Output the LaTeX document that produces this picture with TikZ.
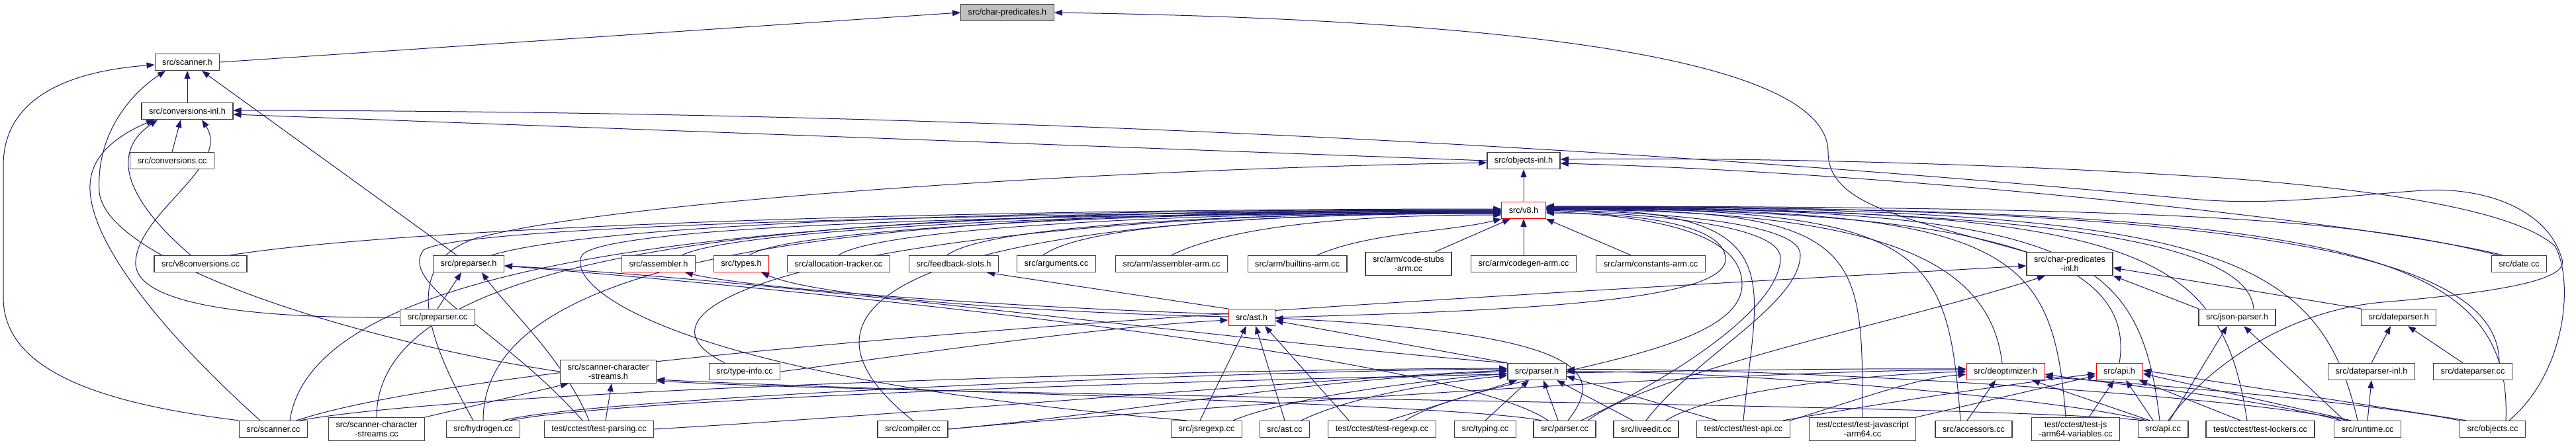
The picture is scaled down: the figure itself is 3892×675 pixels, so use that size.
\documentclass[tikz,border=0pt]{standalone}
\usepackage{fontspec}
\setmainfont{Liberation Sans}
\usepackage{xcolor}
\usepackage{tikz}
\usetikzlibrary{arrows.meta,backgrounds}
\definecolor{midnight}{HTML}{191970}
\tikzset{
  incfile/.style={draw=black!75, line width=1.3pt, fill=white, align=center,
                  font=\fontsize{12.7}{13.5}\selectfont, inner xsep=11pt, inner ysep=6pt,
                  minimum height=25pt},
  incred/.style={incfile, draw=red, line width=1pt},
  incroot/.style={incfile, fill=black!25},
  dep/.style={draw=midnight, line width=1pt, -{Triangle[length=12pt,width=9pt]}},
}

\begin{document}
\begin{tikzpicture}[x=1pt, y=-1pt]
    \useasboundingbox (0,0) rectangle (3892,675);
    % top of the graph
    \node[incroot] (cp)  at (1522,19)  {src/char-predicates.h};
    \node[incfile] (sch) at (283,94)   {src/scanner.h};
    \node[incfile] (cvi) at (283,168)  {src/conversions-inl.h};
    \node[incfile] (cvc) at (260,243)  {src/conversions.cc};
    \node[incfile] (obi) at (2302,243) {src/objects-inl.h};
    \node[incred]  (v8h) at (2302,318) {src/v8.h};
    % row 5
    \node[incfile] (v8c)  at (303,399)  {src/v8conversions.cc};
    \node[incfile] (pph)  at (708,399)  {src/preparser.h};
    \node[incred]  (asmh) at (995,399)  {src/assembler.h};
    \node[incred]  (typh) at (1120,399) {src/types.h};
    \node[incfile] (alt)  at (1267,399) {src/allocation-tracker.cc};
    \node[incfile] (fbs)  at (1441,399) {src/feedback-slots.h};
    \node[incfile] (arg)  at (1596,399) {src/arguments.cc};
    \node[incfile] (aasm) at (1770,399) {src/arm/assembler-arm.cc};
    \node[incfile] (abui) at (1960,399) {src/arm/builtins-arm.cc};
    \node[incfile] (acs)  at (2128,399) {src/arm/code-stubs\\-arm.cc};
    \node[incfile] (acg)  at (2302,399) {src/arm/codegen-arm.cc};
    \node[incfile] (acon) at (2494,399) {src/arm/constants-arm.cc};
    \node[incfile] (cpi)  at (3127,399) {src/char-predicates\\-inl.h};
    \node[incfile] (datc) at (3806,399) {src/date.cc};
    % row 6
    \node[incfile] (ppc)  at (661,480)  {src/preparser.cc};
    \node[incred]  (asth) at (1891,480) {src/ast.h};
    \node[incfile] (jsph) at (3380,480) {src/json-parser.h};
    \node[incfile] (dph)  at (3624,480) {src/dateparser.h};
    % row 7
    \node[incfile] (scsh) at (919,562)  {src/scanner-character\\-streams.h};
    \node[incfile] (tinf) at (1125,562) {src/type-info.cc};
    \node[incfile] (parh) at (2322,562) {src/parser.h};
    \node[incred]  (deoh) at (3030,562) {src/deoptimizer.h};
    \node[incred]  (apih) at (3202,562) {src/api.h};
    \node[incfile] (dpi)  at (3583,562) {src/dateparser-inl.h};
    \node[incfile] (dpc)  at (3736,562) {src/dateparser.cc};
    % bottom row
    \node[incfile] (scc)   at (413,649)  {src/scanner.cc};
    \node[incfile] (scsc)  at (569,649)  {src/scanner-character\\-streams.cc};
    \node[incfile] (hyd)   at (730,649)  {src/hydrogen.cc};
    \node[incfile] (tpar)  at (905,649)  {test/cctest/test-parsing.cc};
    \node[incfile] (comp)  at (1379,649) {src/compiler.cc};
    \node[incfile] (jsre)  at (1823,649) {src/jsregexp.cc};
    \node[incfile] (astc)  at (1941,649) {src/ast.cc};
    \node[incfile] (treg)  at (2088,649) {test/cctest/test-regexp.cc};
    \node[incfile] (typc)  at (2244,649) {src/typing.cc};
    \node[incfile] (parc)  at (2364,649) {src/parser.cc};
    \node[incfile] (live)  at (2487,649) {src/liveedit.cc};
    \node[incfile] (tapi)  at (2634,649) {test/cctest/test-api.cc};
    \node[incfile] (tja)   at (2814,649) {test/cctest/test-javascript\\-arm64.cc};
    \node[incfile] (acc)   at (2982,649) {src/accessors.cc};
    \node[incfile] (tjav)  at (3136,649) {test/cctest/test-js\\-arm64-variables.cc};
    \node[incfile] (apic)  at (3268,649) {src/api.cc};
    \node[incfile] (tlock) at (3415,649) {test/cctest/test-lockers.cc};
    \node[incfile] (rt)    at (3577,649) {src/runtime.cc};
    \node[incfile] (objc)  at (3766,649) {src/objects.cc};

    \begin{scope}[on background layer]
    % top
    \draw[dep] (sch.east) -- (cp.west);
    \draw[dep] (cpi.north west) .. controls (2880,330) and (2762,310) .. (2762,230) .. controls (2762,90) and (2300,30) .. (cp.east);
    \draw[dep] (cvi.north) -- (sch.south);
    \draw[dep] (scc.north west) .. controls (150,610) and (5,560) .. (5,450) -- (5,250) .. controls (5,150) and (100,108) .. ([yshift=-4pt]sch.west);
    \draw[dep] ([xshift=-18pt]pph.north) -- ([xshift=22pt]sch.south);
    \draw[dep] (scsh.west) .. controls (560,520) and (160,400) .. (150,290) .. controls (145,200) and (200,140) .. ([xshift=-33pt]sch.south);
    % conversions-inl.h
    \draw[dep] (cvc.north) -- ([xshift=-10pt]cvi.south);
    \draw[dep] ([xshift=-15pt]v8c.north) .. controls (200,310) and (160,235) .. ([xshift=-45pt]cvi.south);
    \draw[dep] ([xshift=-20pt]scc.north) .. controls (220,480) and (120,340) .. (138,265) .. controls (148,220) and (200,195) .. ([xshift=-50pt]cvi.south);
    \draw[dep] (ppc.west) .. controls (350,482) and (200,455) .. (205,395) .. controls (210,320) and (350,250) .. ([xshift=22pt]cvi.south);
    \draw[dep] (obi.west) -- ([yshift=-5pt]cvi.east);
    \draw[dep] ([xshift=8pt]apic.north) .. controls (3330,560) and (3450,470) .. (3600,457) .. controls (3800,440) and (3885,420) .. (3870,390) .. controls (3850,320) and (3760,282) .. (3660,288) .. controls (3520,298) and (3420,312) .. (3300,300) .. controls (2500,225) and (1500,168) .. ([yshift=1pt]cvi.east);
    % objects-inl.h
    \draw[dep] (v8h.north) -- (obi.south);
    \draw[dep] ([xshift=-15pt]hyd.north) .. controls (650,520) and (600,400) .. (720,360) .. controls (950,300) and (1700,255) .. ([yshift=-3pt]obi.west);
    \draw[dep] ([xshift=25pt]objc.north) .. controls (3880,560) and (3888,420) .. (3860,372) .. controls (3800,318) and (3600,288) .. (3370,270) .. controls (3000,245) and (2600,238) .. ([yshift=2pt]obi.east);
    \draw[dep] ([xshift=-25pt]datc.north) .. controls (3600,340) and (2900,262) .. ([yshift=-4pt]obi.east);
    % v8.h from the left
    \draw[dep] ([xshift=45pt]v8c.north) .. controls +(250,-40) and +(-900,0) .. ([yshift=2pt]v8h.west);
    \draw[dep] ([xshift=35pt]pph.north) .. controls +(150,-45) and +(-800,0) .. ([yshift=1pt]v8h.west);
    \draw[dep] ([xshift=25pt]scc.north) .. controls +(40,-270) and +(-1000,0) .. (v8h.west);
    \draw[dep] (scsc.north) .. controls +(0,-280) and +(-950,0) .. (v8h.west);
    \draw[dep] (hyd.north) .. controls +(0,-270) and +(-900,0) .. ([yshift=-1pt]v8h.west);
    \draw[dep] ([xshift=-25pt]tpar.north) .. controls (760,500) and (600,430) .. (640,378) .. controls (700,340) and (1500,322) .. ([yshift=-1pt]v8h.west);
    \draw[dep] ([xshift=35pt]asmh.north) .. controls +(80,-40) and +(-600,0) .. ([yshift=-2pt]v8h.west);
    \draw[dep] ([xshift=12pt]typh.north) .. controls +(60,-40) and +(-550,0) .. ([yshift=-2pt]v8h.west);
    \draw[dep] (alt.north) .. controls +(60,-40) and +(-500,0) .. ([yshift=-3pt]v8h.west);
    \draw[dep] ([xshift=-10pt]fbs.north) .. controls +(60,-45) and +(-400,0) .. ([yshift=-4pt]v8h.west);
    \draw[dep] ([xshift=-20pt]arg.north) .. controls +(60,-45) and +(-350,0) .. ([yshift=-5pt]v8h.west);
    \draw[dep] (aasm.north) .. controls +(80,-40) and +(-250,0) .. ([yshift=-7pt]v8h.west);
    \draw[dep] ([xshift=30pt]abui.north) .. controls +(80,-35) and +(-80,20) .. (v8h.south west);
    \draw[dep] ([xshift=40pt]acs.north) -- ([xshift=-20pt]v8h.south);
    \draw[dep] (acg.north) -- (v8h.south);
    \draw[dep] ([xshift=-30pt]acon.north) -- (v8h.south east);
    \draw[dep] ([xshift=-30pt]tinf.north) .. controls +(-200,-100) and +(-900,0) .. ([yshift=-3pt]v8h.west);
    \draw[dep] (comp.north) .. controls +(-250,-200) and +(-800,0) .. ([yshift=-4pt]v8h.west);
    \draw[dep] ([xshift=-30pt]jsre.north) .. controls (1000,570) and (850,430) .. (880,385) .. controls (930,335) and (1700,322) .. ([yshift=-5pt]v8h.west);
    % v8.h from the right
    \draw[dep] (asth.east) .. controls (2300,470) and (2607,455) .. (2607,392) .. controls (2607,335) and (2450,322) .. ([yshift=-4pt]v8h.east);
    \draw[dep] ([xshift=35pt]treg.north) .. controls (2250,560) and (2632,545) .. (2632,430) .. controls (2632,340) and (2450,325) .. ([yshift=-2pt]v8h.east);
    \draw[dep] ([xshift=25pt]parc.north) .. controls (2550,560) and (2690,460) .. (2690,390) .. controls (2690,335) and (2450,322) .. (v8h.east);
    \draw[dep] (live.north) .. controls (2560,540) and (2720,460) .. (2720,385) .. controls (2720,330) and (2450,320) .. ([yshift=1pt]v8h.east);
    \draw[dep] (tapi.north) .. controls +(20,-220) and +(380,0) .. ([yshift=2pt]v8h.east);
    \draw[dep] (tja.north) .. controls +(0,-260) and +(480,0) .. ([yshift=2pt]v8h.east);
    \draw[dep] ([xshift=-20pt]acc.north) .. controls +(-20,-260) and +(580,0) .. ([yshift=3pt]v8h.east);
    \draw[dep] ([xshift=-15pt]tjav.north) .. controls +(-20,-260) and +(700,0) .. ([yshift=3pt]v8h.east);
    \draw[dep] ([xshift=-5pt]apic.north) .. controls +(-30,-260) and +(800,0) .. ([yshift=4pt]v8h.east);
    \draw[dep] ([xshift=-20pt]tlock.north) .. controls +(-40,-260) and +(900,0) .. ([yshift=4pt]v8h.east);
    \draw[dep] ([xshift=-15pt]rt.north) .. controls +(-60,-260) and +(1000,0) .. ([yshift=5pt]v8h.east);
    \draw[dep] ([xshift=20pt]objc.north) .. controls +(10,-260) and +(1200,0) .. ([yshift=5pt]v8h.east);
    \draw[dep] ([xshift=40pt]dpc.north) .. controls +(0,-160) and +(1100,0) .. ([yshift=6pt]v8h.east);
    \draw[dep] ([xshift=-32pt]datc.north) .. controls +(-200,-50) and +(1000,0) .. ([yshift=6pt]v8h.east);
    \draw[dep] ([xshift=25pt]jsph.north) .. controls +(-10,-110) and +(700,0) .. ([yshift=3pt]v8h.east);
    \draw[dep] ([xshift=-5pt]deoh.north) .. controls +(-20,-160) and +(500,0) .. ([yshift=1pt]v8h.east);
    \draw[dep] (apih.north) .. controls +(30,-180) and +(600,0) .. ([yshift=2pt]v8h.east);
    % ast.h
    \draw[dep] (asth.north west) -- ([xshift=50pt]fbs.south);
    \draw[dep] ([yshift=5pt]asth.west) .. controls (1600,468) and (1150,440) .. ([xshift=40pt]asmh.south);
    \draw[dep] ([yshift=1pt]asth.west) .. controls (1650,475) and (1250,455) .. ([xshift=30pt]typh.south);
    \draw[dep] (parh.north west) -- ([yshift=-5pt]asth.east);
    \draw[dep] ([xshift=-10pt]jsre.north) -- ([xshift=-8pt]asth.south);
    \draw[dep] (astc.north) -- ([xshift=6pt]asth.south);
    \draw[dep] ([xshift=-50pt]treg.north) -- ([xshift=20pt]asth.south);
    \draw[dep] ([xshift=5pt]parc.north) .. controls (2420,570) and (2420,505) .. ([yshift=-1pt]asth.east);
    \draw[dep] (tinf.east) .. controls (1350,540) and (1650,495) .. ([yshift=-4pt]asth.west);
    % preparser.h
    \draw[dep] (ppc.north) -- ([xshift=-11pt]pph.south);
    \draw[dep] ([xshift=-15pt]tpar.north) .. controls (850,540) and (770,470) .. ([xshift=20pt]pph.south);
    \draw[dep] (parh.north west) .. controls (1900,520) and (1200,425) .. ([yshift=-3pt]pph.east);
    \draw[dep] ([xshift=-25pt]parc.north) .. controls (2200,540) and (1300,445) .. ([yshift=-3pt]pph.east);
    % scanner-character-streams.h
    \draw[dep] ([xshift=10pt]tpar.north) -- ([xshift=5pt]scsh.south);
    \draw[dep] (scsc.north east) -- ([xshift=-60pt]scsh.south);
    \draw[dep] ([xshift=-35pt]parc.north) .. controls (2200,610) and (1300,590) .. ([yshift=-12pt]scsh.east);
    \draw[dep] ([xshift=-30pt]apic.north) .. controls (3000,610) and (1400,600) .. ([yshift=-14pt]scsh.east);
    % parser.h
    \draw[dep] (tpar.east) .. controls (1400,625) and (2000,572) .. ([yshift=2pt]parh.west);
    \draw[dep] ([xshift=30pt]hyd.north) .. controls (900,600) and (1900,560) .. ([yshift=4pt]parh.west);
    \draw[dep] (comp.east) .. controls (1700,625) and (2000,570) .. (parh.west);
    \draw[dep] ([xshift=40pt]scc.north) .. controls (700,590) and (1800,558) .. ([yshift=5pt]parh.west);
    \draw[dep] ([xshift=40pt]jsre.north) .. controls (1950,600) and (2150,575) .. ([yshift=-3pt]parh.west);
    \draw[dep] ([xshift=25pt]astc.north) .. controls (2050,595) and (2200,575) .. ([yshift=-6pt]parh.west);
    \draw[dep] ([xshift=10pt]treg.north) -- ([xshift=-30pt]parh.south);
    \draw[dep] (typc.north) -- ([xshift=-12pt]parh.south);
    \draw[dep] ([xshift=-10pt]parc.north) -- ([xshift=10pt]parh.south);
    \draw[dep] ([xshift=-20pt]live.north) -- ([xshift=30pt]parh.south);
    \draw[dep] ([xshift=-40pt]tapi.north) -- ([yshift=-7pt]parh.east);
    \draw[dep] ([xshift=-25pt]apic.north) .. controls (3100,600) and (2600,560) .. (parh.east);
    \draw[dep] ([xshift=-30pt]rt.north) .. controls (3400,600) and (2700,555) .. ([yshift=3pt]parh.east);
    % char-predicates-inl.h
    \draw[dep] ([xshift=35pt]scc.north) .. controls (800,520) and (2400,440) .. ([yshift=-3pt]cpi.west);
    \draw[dep] ([xshift=35pt]parc.north) .. controls (2500,560) and (2900,480) .. ([xshift=-37pt]cpi.south);
    \draw[dep] (jsph.north west) -- (cpi.south east);
    \draw[dep] (dph.north west) -- ([yshift=-6pt]cpi.east);
    % json and date parsers
    \draw[dep] (dpi.north) -- ([xshift=-12pt]dph.south);
    \draw[dep] ([xshift=-15pt]dpc.north) -- ([xshift=14pt]dph.south);
    \draw[dep] (rt.north) -- (dpi.south);
    \draw[dep] ([xshift=10pt]apic.north) -- ([xshift=-15pt]jsph.south);
    \draw[dep] ([xshift=-35pt]rt.north) -- ([xshift=10pt]jsph.south);
    % deoptimizer.h
    \draw[dep] ([xshift=-10pt]acc.north) -- ([xshift=-15pt]deoh.south);
    \draw[dep] ([xshift=-20pt]apic.north) -- ([xshift=40pt]deoh.south);
    \draw[dep] ([xshift=-40pt]rt.north) .. controls (3400,600) and (3200,582) .. ([yshift=-4pt]deoh.east);
    \draw[dep] (objc.north west) .. controls (3600,612) and (3300,585) .. ([yshift=-8pt]deoh.east);
    \draw[dep] (tapi.north east) .. controls (2850,590) and (2900,572) .. ([yshift=-4pt]deoh.west);
    \draw[dep] ([xshift=30pt]live.north) .. controls (2600,585) and (2850,565) .. (deoh.west);
    \draw[dep] (comp.east) .. controls (1800,615) and (2600,562) .. ([yshift=3pt]deoh.west);
    \draw[dep] ([xshift=40pt]hyd.north) .. controls (1000,590) and (2500,555) .. ([yshift=4pt]deoh.west);
    % api.h
    \draw[dep] (tja.north east) -- ([yshift=-6pt]apih.west);
    \draw[dep] ([xshift=60pt]tapi.north) .. controls (2900,600) and (3050,580) .. ([yshift=-3pt]apih.west);
    \draw[dep] ([xshift=20pt]tjav.north) -- ([xshift=-8pt]apih.south);
    \draw[dep] ([xshift=-15pt]apic.north) -- ([xshift=10pt]apih.south);
    \draw[dep] ([xshift=-30pt]tlock.north) -- ([xshift=30pt]apih.south);
    \draw[dep] ([xshift=-25pt]rt.north) -- ([yshift=-3pt]apih.east);
    \draw[dep] ([xshift=-40pt]objc.north) -- ([yshift=2pt]apih.east);
    \end{scope}
\end{tikzpicture}
\end{document}
